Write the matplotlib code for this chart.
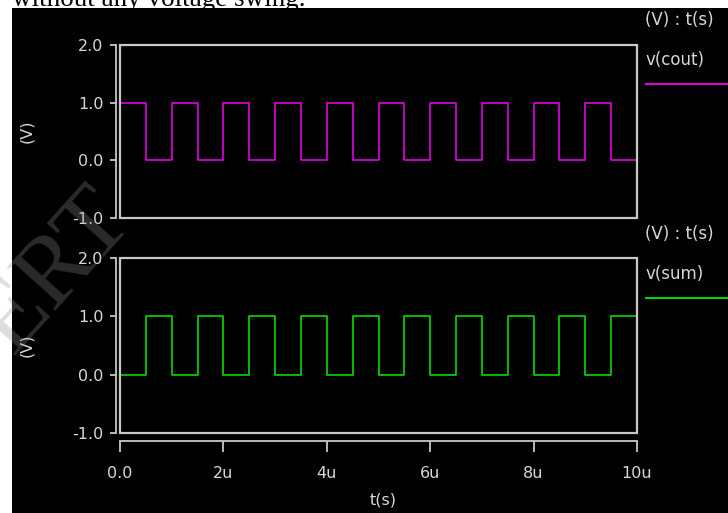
import matplotlib
matplotlib.use('Agg')
import matplotlib.pyplot as plt
from matplotlib.patches import Rectangle
from matplotlib.lines import Line2D

# switching times (us) and logic levels held after each time
t_edges = [0.0, 0.5, 1.0, 1.5, 2.0, 2.5, 3.0, 3.5, 4.0, 4.5, 5.0,
           5.5, 6.0, 6.5, 7.0, 7.5, 8.0, 8.5, 9.0, 9.5, 10.0]
v_cout = [1, 0, 1, 0, 1, 0, 1, 0, 1, 0, 1, 0, 1, 0, 1, 0, 1, 0, 1, 0, 0]
v_sum = [0, 1, 0, 1, 0, 1, 0, 1, 0, 1, 0, 1, 0, 1, 0, 1, 0, 1, 0, 1, 1]

y_ticks = [-1.0, 0.0, 1.0, 2.0]
y_labels = ['-1.0', '0.0', '1.0', '2.0']
x_ticks = [0, 2, 4, 6, 8, 10]
x_labels = ['0.0', '2u', '4u', '6u', '8u', '10u']

W, H = 728, 513
FG = '#d8d8d8'
BOX = '#c8c8c8'
FONT = 'DejaVu Sans'

fig = plt.figure(figsize=(W / 100, H / 100), dpi=100)
fig.patch.set_facecolor('white')


def fx(px):
    return px / W


def fy(py):
    return 1 - py / H


# caption text cut at the top of the picture
fig.text(fx(12), fy(0), 'without any voltage swing.', family='Liberation Serif',
         fontsize=19.5, color='black', va='center', ha='left', zorder=0)

# black screen area
fig.patches.append(Rectangle((fx(12), 0), 1 - fx(12), fy(8), transform=fig.transFigure,
                             facecolor='black', edgecolor='none', zorder=1))


def panel(top, bottom, t, v, color, name, legend_y, show_x):
    ax = fig.add_axes([fx(120), fy(bottom), fx(637) - fx(120), (bottom - top) / H])
    ax.set_zorder(3)
    ax.set_facecolor('none')
    ax.step(t, v, where='post', color=color, lw=1.2, zorder=3)
    ax.set_xlim(0, 10)
    ax.set_ylim(-1, 2)
    # box
    ax.add_patch(Rectangle((0, 0), 1, 1, transform=ax.transAxes, fill=False,
                           edgecolor=BOX, lw=1.6, clip_on=False, zorder=4))
    for s in ['top', 'right']:
        ax.spines[s].set_visible(False)
    ax.spines['left'].set_position(('outward', 3))
    ax.spines['left'].set_color(BOX)
    ax.spines['left'].set_linewidth(1.3)
    ax.set_yticks(y_ticks)
    ax.set_yticklabels(y_labels, family=FONT, fontsize=11.5, color=FG)
    ax.tick_params(axis='y', direction='out', length=4, width=1.3, color=BOX, pad=5)
    if show_x:
        ax.spines['bottom'].set_position(('outward', 6))
        ax.spines['bottom'].set_color(BOX)
        ax.spines['bottom'].set_linewidth(1.3)
        ax.set_xticks(x_ticks)
        ax.set_xticklabels(x_labels, family=FONT, fontsize=11.5, color=FG)
        ax.tick_params(axis='x', direction='out', length=8, width=1.3, color=BOX, pad=10)
    else:
        ax.spines['bottom'].set_visible(False)
        ax.set_xticks([])
    ax.set_ylabel('(V)', family=FONT, fontsize=11.5, color=FG)
    ax.yaxis.set_label_coords((34 - 120) / (637 - 120), 0.5)

    fig.text(fx(645), fy(legend_y), '(V) : t(s)', family=FONT, fontsize=12, color=FG,
             va='center', ha='left', zorder=5)
    fig.text(fx(645), fy(legend_y + 40), name, family=FONT, fontsize=12, color=FG,
             va='center', ha='left', zorder=5)
    fig.lines.append(Line2D([fx(646), 1], [fy(legend_y + 64), fy(legend_y + 64)],
                            transform=fig.transFigure, color=color, lw=1.4, zorder=5))
    return ax


panel(45, 218, t_edges, v_cout, '#e000e0', 'v(cout)', 20, False)
panel(258, 433, t_edges, v_sum, '#00dd00', 'v(sum)', 234, True)

fig.text(fx(383), fy(500), 't(s)', family=FONT, fontsize=11.5, color=FG, va='center', ha='center')

# faint watermark
fig.text(fx(55), fy(272), 'ERT', family='Liberation Serif', fontsize=72, color='#909090',
         alpha=0.3, rotation=48, va='center', ha='center', zorder=6)

fig.savefig('out.png', dpi=100, facecolor=fig.get_facecolor())
